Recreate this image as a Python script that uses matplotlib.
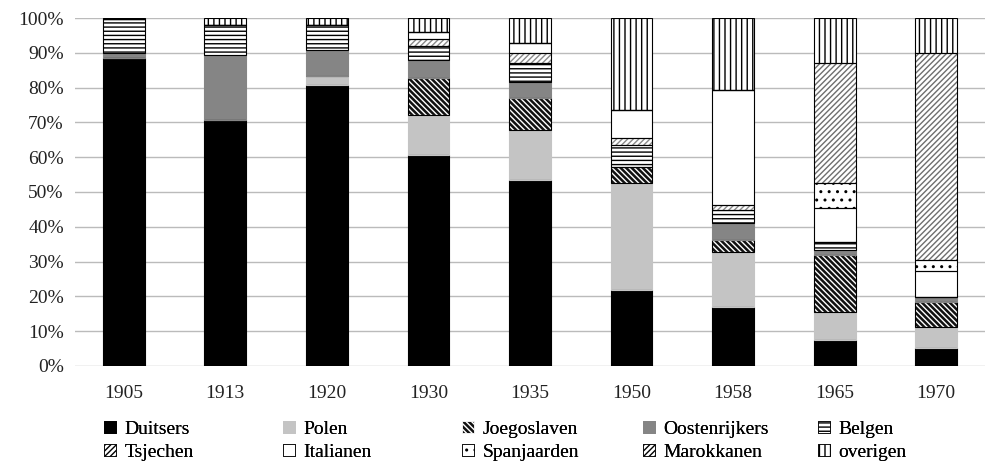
import matplotlib.pyplot as plt
import numpy as np
from matplotlib.patches import Patch
from matplotlib.ticker import PercentFormatter

years = ["1905", "1913", "1920", "1930", "1935", "1950", "1958", "1965", "1970"]

groups = ["Duitsers", "Polen", "Joegoslaven", "Oostenrijkers", "Belgen",
          "Tsjechen", "Italianen", "Spanjaarden", "Marokkanen", "overigen"]

# shares in percent, one list per group, in the order of the years
duitsers = [88.4, 70.7, 80.7, 60.6, 53.4, 21.8, 17.0, 7.5, 5.1]
polen = [0.0, 0.0, 2.6, 11.5, 14.4, 30.7, 15.8, 8.1, 6.2]
joegoslaven = [0.0, 0.0, 0.0, 10.6, 9.1, 4.8, 3.4, 16.3, 7.2]
oostenrijkers = [1.6, 18.7, 7.5, 5.2, 4.8, 0.0, 4.9, 1.4, 1.4]
belgen = [9.6, 8.6, 7.2, 4.2, 5.3, 6.2, 3.7, 2.4, 0.0]
tsjechen = [0.0, 0.0, 0.0, 2.0, 2.9, 1.9, 1.5, 0.0, 0.0]
italianen = [0.0, 0.0, 0.0, 2.0, 2.8, 8.2, 33.0, 9.6, 7.5]
spanjaarden = [0.0, 0.0, 0.0, 0.0, 0.0, 0.0, 0.0, 7.2, 3.1]
marokkanen = [0.0, 0.0, 0.0, 0.0, 0.0, 0.0, 0.0, 34.5, 59.5]
overigen = [0.4, 2.0, 2.0, 3.9, 7.3, 26.4, 20.7, 13.0, 10.0]

series = [duitsers, polen, joegoslaven, oostenrijkers, belgen,
          tsjechen, italianen, spanjaarden, marokkanen, overigen]

# (facecolor, hatch, hatch colour, outline colour)
styles = [
    ("black", None, "black", "black"),
    ("#c4c4c4", None, "#c4c4c4", "#c4c4c4"),
    ("#111111", "\\" * 6, "#ffffff", "black"),
    ("#858585", None, "#858585", "#858585"),
    ("white", "----", "black", "black"),
    ("white", "/" * 6, "#8a8a8a", "black"),
    ("white", None, "black", "black"),
    ("white", "..", "black", "black"),
    ("white", "/" * 6, "#6e6e6e", "black"),
    ("white", "|||", "black", "black"),
]

plt.rcParams['font.family'] = ['Liberation Serif', 'DejaVu Serif']
plt.rcParams['hatch.linewidth'] = 1.0

fig = plt.figure(figsize=(9.86, 4.62), dpi=100)
ax = fig.add_axes([0.076, 0.208, 0.923, 0.753])

x = np.arange(len(years))
bottom = np.zeros(len(years))
for vals, (fc, hatch, hc, oc) in zip(series, styles):
    vals = np.array(vals)
    ax.bar(x, vals, bottom=bottom, width=0.41, color=fc, hatch=hatch,
           edgecolor=hc, linewidth=0.0, zorder=2)
    # thin outline around each segment
    ax.bar(x, vals, bottom=bottom, width=0.41, fill=False,
           edgecolor=oc, linewidth=0.8, zorder=3)
    bottom += vals

ax.set_xlim(-0.48, 8.48)
ax.set_ylim(0, 100)
ax.set_yticks(np.arange(0, 101, 10))
ax.yaxis.set_major_formatter(PercentFormatter(decimals=0))
ax.set_xticks(x)
ax.set_xticklabels(years)
ax.grid(axis="y", color="#bbbbbb", linewidth=1.0, zorder=0)
for s in ax.spines.values():
    s.set_visible(False)
ax.tick_params(axis="both", length=0, labelsize=14, colors="#222222")
ax.tick_params(axis="y", pad=8)
ax.tick_params(axis="x", pad=14)

handles = [Patch(facecolor=fc, hatch=h, edgecolor=hc if fc != "white" else oc,
                 linewidth=0.6)
           for fc, h, hc, oc in styles]

# one small legend per column: top row groups 0-4, bottom row groups 5-9
col_x = [104, 283, 462, 643, 818]
for c, px in enumerate(col_x):
    leg = fig.legend([handles[c], handles[c + 5]], [groups[c], groups[c + 5]],
                     loc="upper left", bbox_to_anchor=(px / 986, 1 - 421 / 462),
                     frameon=False, fontsize=14, handlelength=0.6, handleheight=0.6,
                     handletextpad=0.45, labelspacing=0.3, borderpad=0.0,
                     borderaxespad=0.0)
    fig.add_artist(leg)

fig.savefig("out.png", dpi=100)
